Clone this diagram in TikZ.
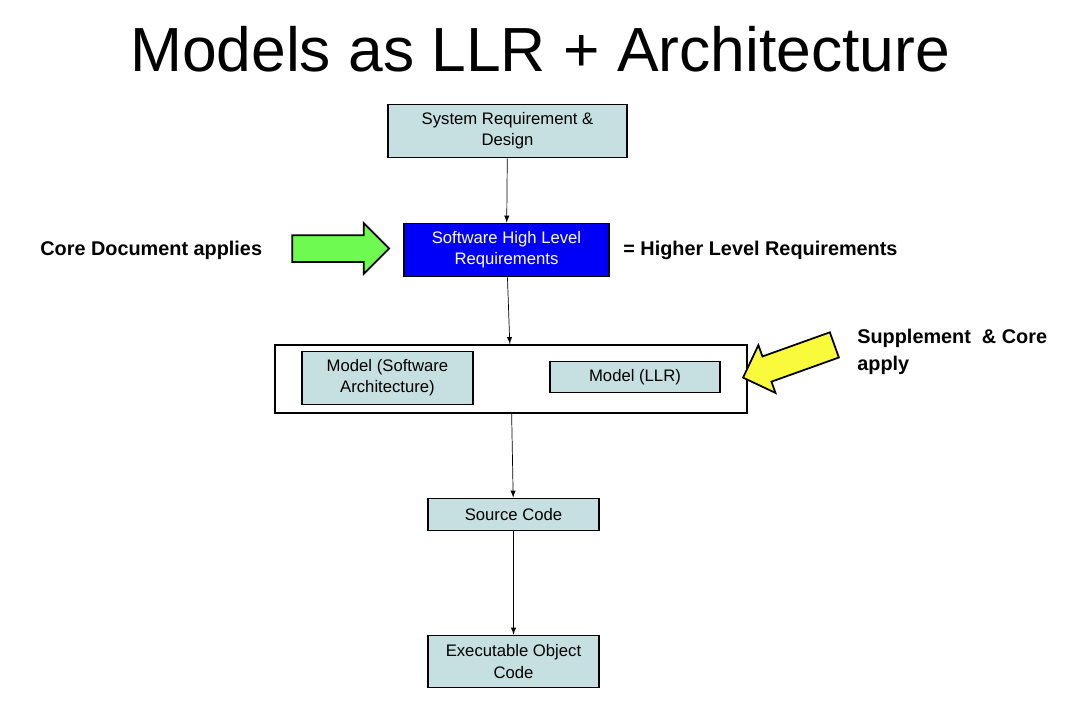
\documentclass[tikz,border=0pt]{standalone}
\usepackage{fontspec}
\setmainfont{Liberation Sans}
\usetikzlibrary{shapes.arrows}
\definecolor{boxfill}{RGB}{198,224,226}
\definecolor{hlrblue}{RGB}{0,0,250}
\definecolor{greenarrow}{RGB}{110,250,80}
\definecolor{yellowarrow}{RGB}{250,250,60}
\begin{document}
\begin{tikzpicture}[x=0.02cm, y=-0.02cm,
  box/.style={draw, line width=1pt, fill=boxfill, inner sep=0pt, align=center, font=\fontsize{9.5}{12}\selectfont},
  bigarrow/.style={single arrow, draw, line width=1pt, inner xsep=0pt, inner ysep=0.25cm, minimum height=1.94cm, minimum width=0.98cm, single arrow head extend=0.24cm},
  lbl/.style={font=\fontsize{11.3}{15.5}\selectfont\bfseries, inner sep=0pt}]
\useasboundingbox (0,0) rectangle (1080,708);
\node[font=\fontsize{35.5}{40}\selectfont] (title) at (540,49){Models as LLR + Architecture};
\node[box, minimum width=4.78cm, minimum height=1.06cm] (box0) at (507.5,131){System Requirement \&\\Design};
\node[box, minimum width=4.1cm, minimum height=1.06cm, fill=hlrblue, text=white] (box1) at (506.5,250){Software High Level\\Requirements};
\node[box, minimum width=9.44cm, minimum height=1.36cm, fill=white] (box2) at (511,379){};
\node[box, minimum width=3.42cm, minimum height=1.06cm] (box3) at (387.5,378){Model (Software\\Architecture)};
\node[box, minimum width=3.4cm, minimum height=0.62cm] (box4) at (635,377){Model (LLR)};
\node[box, minimum width=3.42cm, minimum height=0.64cm] (box5) at (513.5,514.5){Source Code};
\node[box, minimum width=3.42cm, minimum height=1.04cm] (box6) at (513.5,661.5){Executable Object\\Code};
\draw[-latex](box0) -- (box1);
\draw[-latex](box1) -- (box2);
\draw[-latex](box2) -- (box5);
\draw[-latex](box5) -- (box6);
\node[bigarrow, fill=greenarrow] (arr0) at (334,248.5){};
\node[bigarrow, fill=yellowarrow, rotate=199.7] (arr1) at (795,359){};
\node[lbl, anchor=west] (core) at (40,250){Core Document applies};
\node[lbl, anchor=west] (higher) at (623,250){= Higher Level Requirements};
\node[lbl, anchor=west, align=left] (supp) at (857,352){Supplement \ \& Core\\apply};
\end{tikzpicture}
\end{document}
